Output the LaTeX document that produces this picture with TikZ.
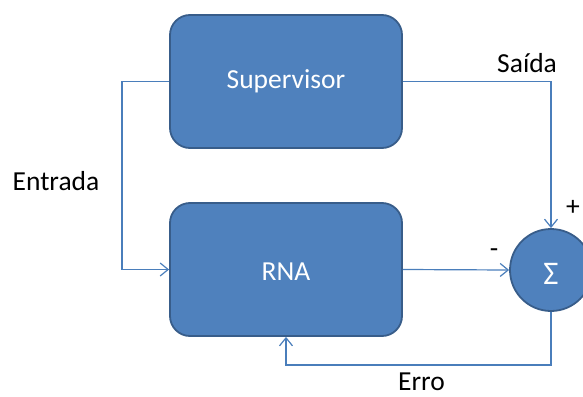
\documentclass[tikz,border=0pt]{standalone}
\usepackage{fontspec}
\setmainfont{Carlito}
\usetikzlibrary{arrows.meta}
\definecolor{boxfill}{HTML}{4F81BD}
\definecolor{boxline}{HTML}{385D8A}
\definecolor{wire}{HTML}{4A7EBB}
\tikzset{
  blockbox/.style={draw=boxline, fill=boxfill, line width=1.8pt, rounded corners=20pt,
    minimum width=232pt, minimum height=133pt, text=white, inner sep=0pt,
    font=\fontsize{27.5}{33}\selectfont},
  sumnode/.style={circle, draw=boxline, fill=boxfill, line width=1.8pt, minimum size=82pt,
    inner sep=0pt, text=white, font=\fontsize{27.5}{33}\selectfont},
  wirestyle/.style={draw=wire, line width=1.2pt},
  arr/.style={wirestyle, -{Straight Barb[length=8pt,width=13pt,line width=1.2pt]}},
  lbl/.style={inner sep=0pt, text=black, font=\fontsize{27.5}{33}\selectfont},
}
\begin{document}
\begin{tikzpicture}[x=1pt, y=-1pt]
  \useasboundingbox (0,0) rectangle (583,396);
  \clip (0,0) rectangle (583,396);

  % blocks
  \node[blockbox] (sup) at (286,81.5) {};
  \node[blockbox] (rna) at (286,269.5) {};
  \node[sumnode] (sum) at (551,270) {};

  % block texts
  \node[lbl, text=white, anchor=base] (suptxt) at (286,88) {Supervisor};
  \node[lbl, text=white, anchor=base] (rnatxt) at (286,280) {RNA};
  \node[lbl, text=white, anchor=base, font=\fontsize{33}{38}\selectfont] (sigma) at (551,284) {Σ};

  % routing points
  \coordinate (inbend) at (122,175);
  \coordinate (fbline) at (0,365);

  % connectors
  \draw[arr] (sup.west) -| (inbend) |- (rna.west);
  \draw[arr] (sup.east) -| (sum.north);
  \draw[arr] (rna.east) -- (sum.west);
  \draw[arr] (sum.south) -- (sum.south |- fbline) -| (rna.south);

  % labels
  \node[lbl, anchor=base] (entrada) at (56,190) {Entrada};
  \node[lbl, anchor=base west] (saida) at (497,73) {Saída};
  \node[lbl, anchor=base west] (erro) at (398,390) {Erro};
  \node[lbl] (plus) at (573,208) {+};
  \node[lbl] (minus) at (494,253) {-};
\end{tikzpicture}
\end{document}
